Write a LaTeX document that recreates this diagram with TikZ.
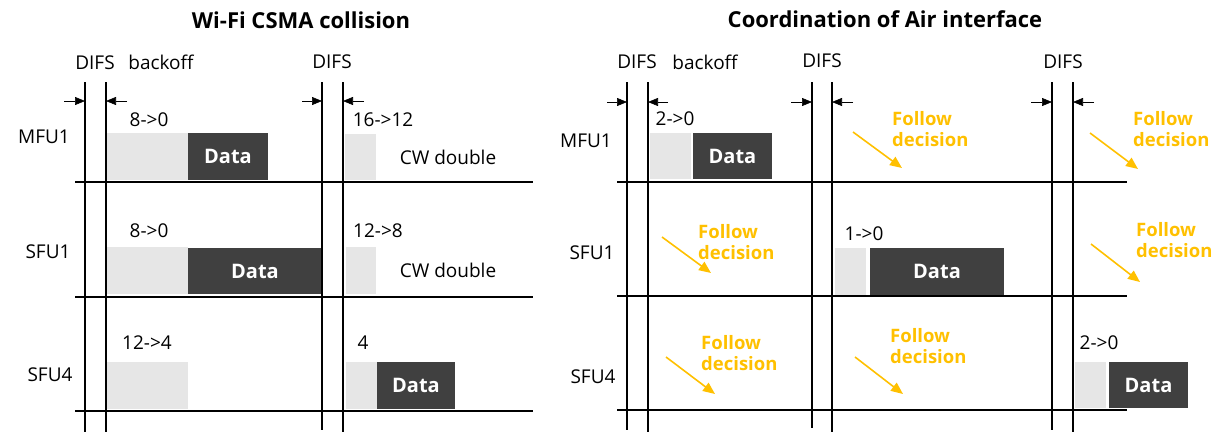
\documentclass[tikz,border=0pt]{standalone}
\usepackage{fontspec}
\setmainfont{Open Sans}
\usetikzlibrary{arrows.meta}
\definecolor{follow}{RGB}{255,192,0}
\definecolor{backoffgray}{RGB}{230,230,230}
\definecolor{datagray}{RGB}{64,64,64}

\tikzset{
  lbl/.style={font=\fontsize{19}{22}\selectfont, inner sep=0pt},
  ttl/.style={font=\bfseries\fontsize{22}{26}\selectfont, inner sep=0pt},
  gbox/.style={fill=backoffgray, draw=none, inner sep=0pt, outer sep=0pt},
  dbox/.style={fill=datagray, draw=none, text=white,
               font=\bfseries\fontsize{20}{24}\selectfont, inner sep=0pt, outer sep=0pt},
  fol/.style={text=follow, font=\bfseries\fontsize{18.5}{21}\selectfont,
              align=left, inner sep=0pt, anchor=west},
  folarrow/.style={draw=follow, line width=1.6pt, -{Triangle[length=12pt,width=10pt]}},
  difarrow/.style={draw=black, line width=0.6pt, -{Triangle[length=10pt,width=8pt]}},
  grid/.style={line width=1.3pt},
}

% name, style, x1, y1, x2, y2, text
\newcommand{\tlbar}[7]{%
  \node[#2, minimum width={(#5)-(#3)}, minimum height={(#6)-(#4)}]
    (#1) at ({((#3)+(#5))/2},{((#4)+(#6))/2}) {#7};}

\begin{document}
\begin{tikzpicture}[x=1pt,y=-1pt]
\useasboundingbox (0,0) rectangle (1228,432);

% ---------- titles ----------
\node[ttl] (t1) at (301,20) {Wi-Fi CSMA collision};
\node[ttl] (t2) at (885,19) {Coordination of Air interface};

% ================= left: CSMA collision =================
\node[lbl] (ld1) at (95,63) {DIFS};
\node[lbl] (lbo) at (161,62) {backoff};
\node[lbl] (ld2) at (332,62) {DIFS};

\node[lbl] (lm1) at (44,137) {MFU1};
\node[lbl] (ls1) at (48,252) {SFU1};
\node[lbl] (ls4) at (50,375) {SFU4};

% time slots
\tlbar{lg11}{gbox}{107}{133}{188}{180}{}
\tlbar{ld11}{dbox}{188}{133}{268}{180}{Data}
\node[lbl] (lc11) at (149,120) {8->0};
\tlbar{lg12}{gbox}{345}{134}{376}{180}{}
\node[lbl] (lc12) at (383,120) {16->12};
\node[lbl] (lw1) at (448,157) {CW double};

\tlbar{lg21}{gbox}{107}{247}{188}{294}{}
\tlbar{ld21}{dbox}{188}{248}{322}{294}{Data}
\node[lbl] (lc21) at (149,231) {8->0};
\tlbar{lg22}{gbox}{346}{247}{376}{294}{}
\node[lbl] (lc22) at (378,231) {12->8};
\node[lbl] (lw2) at (448,270) {CW double};

\tlbar{lg31}{gbox}{107}{362}{188}{409}{}
\node[lbl] (lc31) at (147,343) {12->4};
\tlbar{lg32}{gbox}{346}{362}{377}{409}{}
\tlbar{ld32}{dbox}{377}{362}{455}{409}{Data}
\node[lbl] (lc32) at (363,343) {4};

% grid
\foreach \x/\b in {85/432,106/432,322/430,343/432}
  \draw[grid] (\x,82) -- (\x,\b);
\foreach \y in {182,297,411}
  \draw[grid] (75,\y) -- (533,\y);

% DIFS markers
\coordinate (la1s) at (64,101);  \coordinate (la1e) at (85,101);
\coordinate (la2s) at (127,101); \coordinate (la2e) at (106,101);
\coordinate (la3s) at (302,101); \coordinate (la3e) at (322,101);
\coordinate (la4s) at (364,101); \coordinate (la4e) at (343,101);
\draw[difarrow] (la1s) -- (la1e);
\draw[difarrow] (la2s) -- (la2e);
\draw[difarrow] (la3s) -- (la3e);
\draw[difarrow] (la4s) -- (la4e);

% ================= right: coordinated air interface =================
\node[lbl] (rd1) at (637,62) {DIFS};
\node[lbl] (rbo) at (705,62) {backoff};
\node[lbl] (rd2) at (822,61) {DIFS};
\node[lbl] (rd3) at (1063,62) {DIFS};

\node[lbl] (rm1) at (586,141) {MFU1};
\node[lbl] (rs1) at (592,253) {SFU1};
\node[lbl] (rs4) at (593,377) {SFU4};

% MFU1
\tlbar{rg11}{gbox}{650}{133}{691}{179}{}
\tlbar{rd11}{dbox}{693}{133}{772}{179}{Data}
\node[lbl] (rc11) at (675,119) {2->0};
\node[fol] (rf12) at (892,129.5) {Follow\\decision};
\coordinate (rf12s) at (853,132); \coordinate (rf12e) at (902,168);
\draw[folarrow] (rf12s) -- (rf12e);
\node[fol] (rf13) at (1133,129.5) {Follow\\decision};
\coordinate (rf13s) at (1090,133); \coordinate (rf13e) at (1138,169);
\draw[folarrow] (rf13s) -- (rf13e);

% SFU1
\node[fol] (rf21) at (698,242) {Follow\\decision};
\coordinate (rf21s) at (662,237); \coordinate (rf21e) at (711,273);
\draw[folarrow] (rf21s) -- (rf21e);
\tlbar{rg22}{gbox}{835}{248}{866}{295}{}
\tlbar{rd22}{dbox}{870}{248}{1004}{295}{Data}
\node[lbl] (rc22) at (864,234) {1->0};
\node[fol] (rf23) at (1136,240) {Follow\\decision};
\coordinate (rf23s) at (1091,244); \coordinate (rf23e) at (1140,282);
\draw[folarrow] (rf23s) -- (rf23e);

% SFU4
\node[fol] (rf31) at (701,353) {Follow\\decision};
\coordinate (rf31s) at (666,357); \coordinate (rf31e) at (715,394);
\draw[folarrow] (rf31s) -- (rf31e);
\node[fol] (rf32) at (890,346.5) {Follow\\decision};
\coordinate (rf32s) at (855,357); \coordinate (rf32e) at (903,394);
\draw[folarrow] (rf32s) -- (rf32e);
\tlbar{rg33}{gbox}{1075}{362}{1106}{408}{}
\tlbar{rd33}{dbox}{1109}{362}{1188}{408}{Data}
\node[lbl] (rc33) at (1099,343) {2->0};

% grid
\foreach \x/\b in {627/430,648/432,812/428,832/432,1052/430,1073/432}
  \draw[grid] (\x,82) -- (\x,\b);
\foreach \y in {182,296,410}
  \draw[grid] (617,\y) -- (1127,\y);

% DIFS markers
\coordinate (ra1s) at (607,102);  \coordinate (ra1e) at (627,102);
\coordinate (ra2s) at (668,102);  \coordinate (ra2e) at (648,102);
\coordinate (ra3s) at (791,102);  \coordinate (ra3e) at (812,102);
\coordinate (ra4s) at (853,102);  \coordinate (ra4e) at (832,102);
\coordinate (ra5s) at (1031,102); \coordinate (ra5e) at (1052,102);
\coordinate (ra6s) at (1094,102); \coordinate (ra6e) at (1073,102);
\foreach \i in {1,...,6}
  \draw[difarrow] (ra\i s) -- (ra\i e);
\end{tikzpicture}
\end{document}
